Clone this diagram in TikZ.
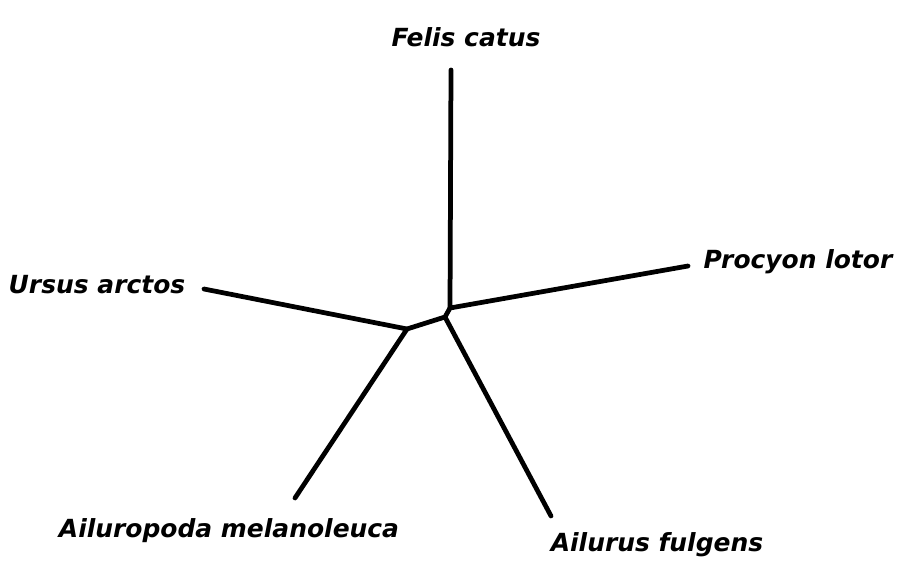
\documentclass[tikz,border=0pt]{standalone}
\usepackage{fontspec}
\setsansfont{DejaVu Sans}
\usetikzlibrary{positioning}

\begin{document}
\begin{tikzpicture}[
  x=0.02cm, y=-0.02cm,
  taxon/.style={font=\sffamily\bfseries\itshape\fontsize{14.2}{17}\selectfont, inner sep=0pt},
  branch/.style={draw=black, line width=0.095cm, line cap=round, line join=round},
]
\useasboundingbox[fill=white] (0,0) rectangle (910,581);

% ---- internal nodes ----
\coordinate (nA) at (450,308);
\coordinate (nC) at (445,317);
\coordinate (nB) at (407,329);

% ---- branch tips ----
\coordinate (tFelis) at (451,70);
\coordinate (tProcyon) at (688,266);
\coordinate (tUrsus) at (204,289);
\coordinate (tAiluropoda) at (295,498);
\coordinate (tAilurus) at (551,516);

% ---- taxon labels ----
\node[taxon] (felis) at (466,37) {Felis catus};
\node[taxon] (procyon) at (798,262) {Procyon lotor};
\node[taxon] (ursus) at (97,285) {Ursus arctos};
\node[taxon] (ailuropoda) at (229,531) {Ailuropoda melanoleuca};
\node[taxon] (ailurus) at (657,545) {Ailurus fulgens};

% ---- branches ----
\draw[branch] (tFelis) -- (nA) -- (tProcyon);
\draw[branch] (nA) -- (nC) -- (nB);
\draw[branch] (nC) -- (tAilurus);
\draw[branch] (tUrsus) -- (nB) -- (tAiluropoda);

\end{tikzpicture}
\end{document}
